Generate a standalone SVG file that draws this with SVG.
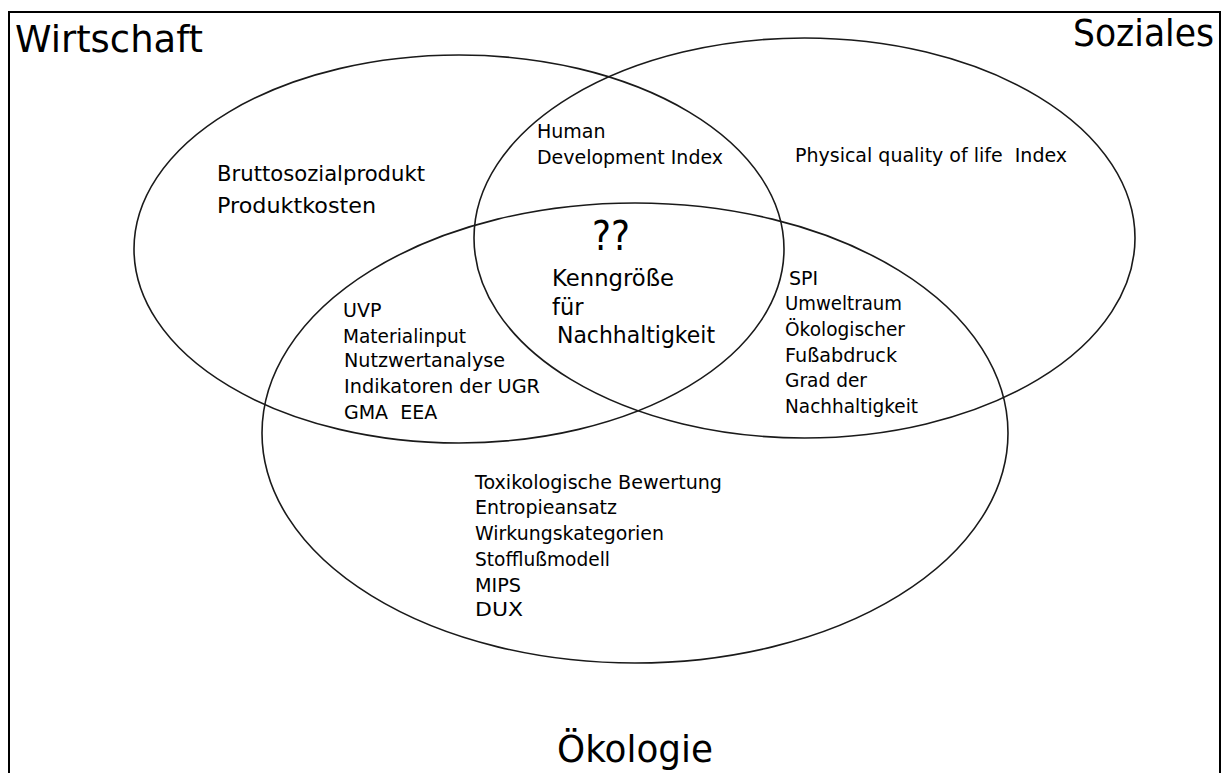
<svg xmlns="http://www.w3.org/2000/svg" width="1229" height="773" viewBox="0 0 1229 773">
  <style>
    .ring { fill: none; stroke: #1a1a1a; stroke-width: 1.6; }
    .frame { fill: none; stroke: #000; stroke-width: 2; }
    text { font-family: "DejaVu Sans", "Liberation Sans", sans-serif; fill: #000; }
    .title { font-size: 38px; }
    .mid { font-size: 21px; }
    .core { font-size: 22.5px; }
    .small { font-size: 19px; }
    .pre { white-space: pre; }
  </style>
  <rect width="1229" height="773" fill="#fff"/>
  <rect class="frame" x="9" y="12" width="1211" height="780"/>

  <!-- the three overlapping domains -->
  <g id="sets">
    <ellipse id="ring-wirtschaft" class="ring" cx="459" cy="249" rx="325" ry="194"/>
    <ellipse id="ring-soziales" class="ring" cx="804.5" cy="238" rx="330.5" ry="200"/>
    <ellipse id="ring-oekologie" class="ring" cx="635" cy="433" rx="373" ry="230"/>
  </g>

  <!-- domain titles -->
  <g id="title-wirtschaft"><text class="title" x="15" y="52" textLength="188" lengthAdjust="spacingAndGlyphs">Wirtschaft</text></g>
  <g id="title-soziales"><text class="title" x="1073" y="46" textLength="141" lengthAdjust="spacingAndGlyphs">Soziales</text></g>
  <g id="title-oekologie"><text class="title" x="557" y="762" textLength="156" lengthAdjust="spacingAndGlyphs">Ökologie</text></g>

  <!-- economy only -->
  <g id="wirtschaft-only">
    <text class="mid" x="217" y="181" textLength="208" lengthAdjust="spacingAndGlyphs">Bruttosozialprodukt</text>
    <text class="mid" x="217" y="213" textLength="159" lengthAdjust="spacingAndGlyphs">Produktkosten</text>
  </g>

  <!-- economy ∩ social -->
  <g id="wirtschaft-soziales">
    <text class="small" x="537" y="138">Human</text>
    <text class="small" x="537" y="164" textLength="186" lengthAdjust="spacingAndGlyphs">Development Index</text>
  </g>

  <!-- social only -->
  <g id="soziales-only">
    <text class="small pre" x="795" y="162" xml:space="preserve">Physical quality of life  Index</text>
  </g>

  <!-- centre: all three -->
  <g id="kern">
    <text x="592" y="250" font-size="40" textLength="38" lengthAdjust="spacingAndGlyphs">??</text>
    <text class="core" x="552" y="286" textLength="122" lengthAdjust="spacingAndGlyphs">Kenngröße</text>
    <text class="core" x="552" y="315">für</text>
    <text class="core" x="557" y="343" textLength="158" lengthAdjust="spacingAndGlyphs">Nachhaltigkeit</text>
  </g>

  <!-- economy ∩ ecology -->
  <g id="wirtschaft-oekologie">
    <text class="small" x="343" y="317">UVP</text>
    <text class="small" x="343" y="343" textLength="123" lengthAdjust="spacingAndGlyphs">Materialinput</text>
    <text class="small" x="344" y="367" textLength="161" lengthAdjust="spacingAndGlyphs">Nutzwertanalyse</text>
    <text class="small" x="344" y="393" textLength="196" lengthAdjust="spacingAndGlyphs">Indikatoren der UGR</text>
    <text class="small pre" x="344" y="419" xml:space="preserve">GMA  EEA</text>
  </g>

  <!-- social ∩ ecology -->
  <g id="soziales-oekologie">
    <text class="small" x="789" y="285">SPI</text>
    <text class="small" x="785" y="310" textLength="117" lengthAdjust="spacingAndGlyphs">Umweltraum</text>
    <text class="small" x="785" y="336" textLength="120" lengthAdjust="spacingAndGlyphs">Ökologischer</text>
    <text class="small" x="785" y="362" textLength="112" lengthAdjust="spacingAndGlyphs">Fußabdruck</text>
    <text class="small" x="785" y="387" textLength="82" lengthAdjust="spacingAndGlyphs">Grad der</text>
    <text class="small" x="785" y="413" textLength="133" lengthAdjust="spacingAndGlyphs">Nachhaltigkeit</text>
  </g>

  <!-- ecology only -->
  <g id="oekologie-only">
    <text class="small" x="475" y="489" textLength="247" lengthAdjust="spacingAndGlyphs">Toxikologische Bewertung</text>
    <text class="small" x="475" y="514" textLength="142" lengthAdjust="spacingAndGlyphs">Entropieansatz</text>
    <text class="small" x="475" y="540" textLength="189" lengthAdjust="spacingAndGlyphs">Wirkungskategorien</text>
    <text class="small" x="475" y="566" textLength="135" lengthAdjust="spacingAndGlyphs">Stofflußmodell</text>
    <text class="small" x="475" y="592" textLength="46" lengthAdjust="spacingAndGlyphs">MIPS</text>
    <text class="small" x="475" y="616" textLength="48" lengthAdjust="spacingAndGlyphs">DUX</text>
  </g>
</svg>
